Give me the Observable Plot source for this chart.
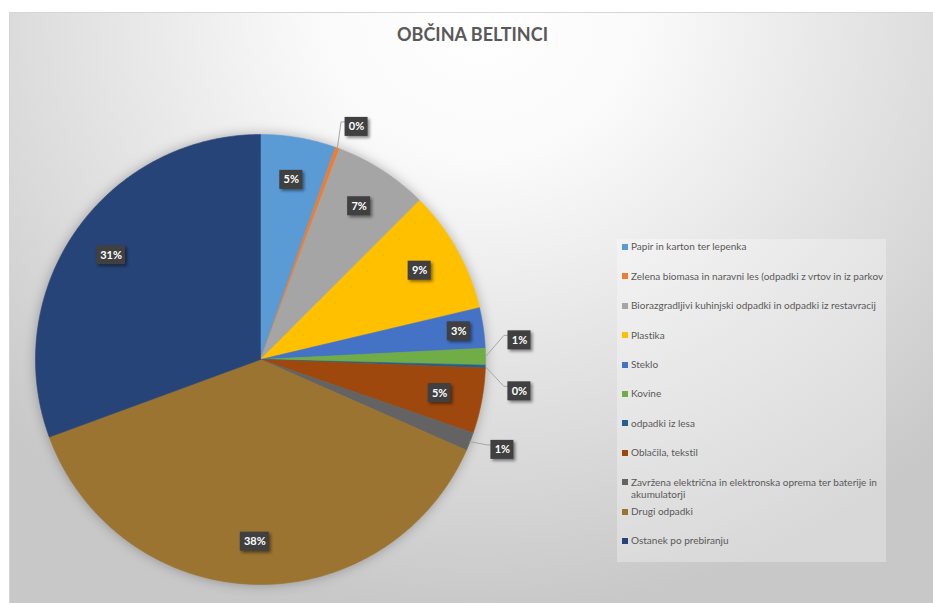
<!DOCTYPE html>
<html>
<head>
<meta charset="utf-8">
<script src="https://cdn.jsdelivr.net/npm/d3@7"></script>
<script src="https://cdn.jsdelivr.net/npm/@observablehq/plot@0.6"></script>
<style>
  html, body { margin: 0; padding: 0; background: #fff; }
  #chart { position: relative; width: 933px; height: 603px; overflow: hidden; background: #fff;
           font-family: Lato, "Open Sans", sans-serif; font-variant-ligatures: none; }
  #bg { position: absolute; left: 9px; top: 12px; width: 940px; height: 600px;
        border-top: 1px solid #d6d6d6; border-left: 1px solid #d6d6d6;
        background: radial-gradient(ellipse 70% 100% at 50% 0%, #ffffff 0%, #fafafa 25%, #d9d9d9 75%, #c8c8c8 100%); }
  #title { position: absolute; left: 0; width: 945px; top: 23px; text-align: center;
           font: bold 18px Lato, "Open Sans", sans-serif; color: #595959; }
  #plot { position: absolute; left: 0; top: 0; }
  #plot text { font-variant-ligatures: none; }
  #legend { position: absolute; left: 617px; top: 239px; width: 269px; height: 323px; background: rgba(255,255,255,0.3); }
  #legend .item { position: absolute; left: 5px; display: flex; align-items: flex-start; }
  #legend .sw { width: 6px; height: 6px; margin-top: 3.5px; margin-right: 3px; flex: none; }
  #legend .lt { width: 256px; font-size: 10px; line-height: 12.5px; color: #595959; }
</style>
</head>
<body>
<div id="chart">
  <div id="bg"></div>
  <div id="title"></div>
  <div id="plot"></div>
  <div id="legend"></div>
</div>
<script>
const categories = [
  "Papir in karton ter lepenka",
  "Zelena biomasa in naravni les (odpadki z vrtov in iz parkov",
  "Biorazgradljivi kuhinjski odpadki in odpadki iz restavracij",
  "Plastika",
  "Steklo",
  "Kovine",
  "odpadki iz lesa",
  "Oblačila, tekstil",
  "Zavržena električna in elektronska oprema ter baterije in akumulatorji",
  "Drugi odpadki",
  "Ostanek po prebiranju"
];
const values = [5.4, 0.3, 6.8, 8.8, 2.9, 1.2, 0.2, 4.7, 1.3, 37.8, 30.6];
const colors = ["#5B9BD5", "#ED7D31", "#A5A5A5", "#FFC000", "#4472C4", "#70AD47",
                "#255E91", "#9E480E", "#636363", "#9A7430", "#264478"];
const title = "OBČINA BELTINCI";

const R = 225, CX = 260, CY = 359;
const arcs = d3.pie().sort(null).value(d => d)(values);

// slice polygons
const slicePts = [];
arcs.forEach((a, i) => {
  slicePts.push({k: i, x: 0, y: 0});
  const n = Math.max(2, Math.ceil((a.endAngle - a.startAngle) / (Math.PI / 360)));
  for (let j = 0; j <= n; j++) {
    const t = a.startAngle + (a.endAngle - a.startAngle) * j / n;
    slicePts.push({k: i, x: Math.sin(t), y: Math.cos(t)});
  }
  slicePts.push({k: i, x: 0, y: 0});
});

// labels
const labels = arcs.map((a, i) => {
  const mid = (a.startAngle + a.endAngle) / 2;
  const text = Math.round(a.value) + "%";
  const outside = a.value < 2;
  const f = outside ? 1.1 : (a.value < 4 ? 0.89 : 0.81);
  return {i, mid, text, outside, ax: f * Math.sin(mid), ay: f * Math.cos(mid)};
});
// spread overlapping outside labels vertically
const outs = labels.filter(d => d.outside).sort((a, b) => b.ay - a.ay);
const gap = 51 / R;
for (let it = 0; it < 20; it++) {
  for (let j = 1; j < outs.length; j++) {
    const p = outs[j - 1], c = outs[j];
    if (p.ay - c.ay < gap) {
      const m = (p.ay + c.ay) / 2 - 4 / R;
      p.ay = m + gap / 2; c.ay = m - gap / 2;
    }
  }
}
labels.forEach(d => {
  const hw = (d.text.length === 2 ? 11.5 : 14.5) / R;
  d.x = d.outside ? d.ax + hw : d.ax;
  d.y = d.ay;
});
const leaders = [];
outs.forEach(d => {
  leaders.push({i: d.i, x: Math.sin(d.mid), y: Math.cos(d.mid)});
  leaders.push({i: d.i, x: d.ax - 4 / R, y: d.ay + 5 / R});
  leaders.push({i: d.i, x: d.ax, y: d.ay + 5 / R});
});

const plot = Plot.plot({
  width: 933, height: 603, margin: 0,
  x: {domain: [-1, 1], range: [CX - R, CX + R], axis: null},
  y: {domain: [-1, 1], range: [CY + R, CY - R], axis: null},
  style: {background: "transparent", overflow: "visible"},
  marks: [
    Plot.line(slicePts, {x: "x", y: "y", z: "k", fill: d => colors[d.k], stroke: d => colors[d.k], strokeWidth: 0.6, curve: "linear"}),
    Plot.line(leaders, {x: "x", y: "y", z: "i", stroke: "#a6a6a6", strokeWidth: 1}),
    Plot.rect(labels.filter(d => d.text.length === 2), {x1: "x", x2: "x", y1: "y", y2: "y", fill: "#404040",
      insetLeft: -11.5, insetRight: -11.5, insetTop: -9.5, insetBottom: -9.5}),
    Plot.rect(labels.filter(d => d.text.length === 3), {x1: "x", x2: "x", y1: "y", y2: "y", fill: "#404040",
      insetLeft: -14.5, insetRight: -14.5, insetTop: -9.5, insetBottom: -9.5}),
    Plot.text(labels, {x: "x", y: "y", text: "text", fill: "white", fontWeight: "bold", fontSize: 11,
      fontFamily: "Lato, 'Open Sans', sans-serif"})
  ]
});
document.getElementById("plot").appendChild(plot);
const lineGroups = plot.querySelectorAll('g[aria-label="line"]');
if (lineGroups[0]) lineGroups[0].style.filter = "drop-shadow(0px 0px 6px rgba(0,0,0,0.28))";
plot.querySelectorAll('g[aria-label="rect"]').forEach(g => g.style.filter = "drop-shadow(2px 2px 1.5px rgba(0,0,0,0.45))");

document.getElementById("title").textContent = title;
const legend = document.getElementById("legend");
categories.forEach((c, i) => {
  const item = document.createElement("div");
  item.className = "item";
  item.style.top = (1.45 + i * 29.4) + "px";
  const sw = document.createElement("span");
  sw.className = "sw"; sw.style.background = colors[i];
  const lt = document.createElement("span");
  lt.className = "lt"; lt.textContent = c;
  item.appendChild(sw); item.appendChild(lt);
  legend.appendChild(item);
});
</script>
</body>
</html>
